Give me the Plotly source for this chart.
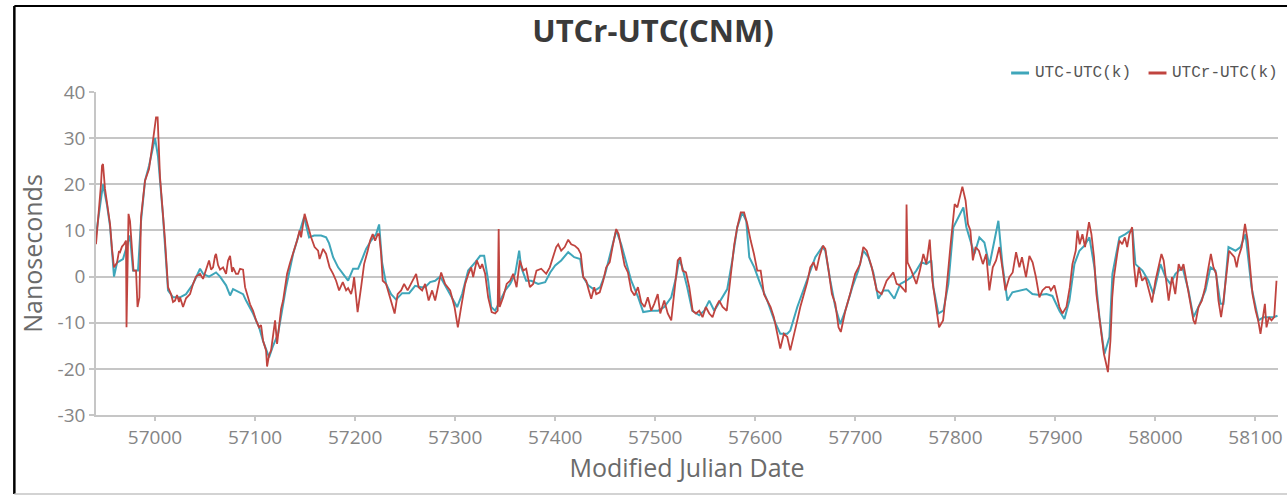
import plotly.graph_objects as go

# ---- data ----
mjd_utc = [56941, 56944, 56948, 56952, 56955, 56959, 56962, 56968, 56972, 56975, 56978, 56983, 56986, 56990,
           56994, 57000, 57003, 57008, 57013, 57018, 57025, 57031, 57038, 57045, 57048, 57054, 57061, 57065,
           57071, 57075, 57078, 57084, 57088, 57091, 57098, 57104, 57108, 57114, 57118, 57123, 57131, 57138,
           57144, 57149, 57154, 57159, 57166, 57171, 57174, 57178, 57183, 57188, 57193, 57198, 57203, 57207,
           57211, 57216, 57221, 57224, 57227, 57231, 57236, 57241, 57247, 57254, 57260, 57266, 57270, 57275,
           57280, 57285, 57288, 57297, 57302, 57307, 57313, 57320, 57325, 57329, 57333, 57336, 57340, 57345,
           57350, 57355, 57360, 57364, 57366, 57371, 57376, 57383, 57390, 57395, 57400, 57406, 57413, 57419,
           57425, 57428, 57433, 57440, 57445, 57450, 57455, 57461, 57466, 57471, 57476, 57483, 57488, 57496,
           57503, 57509, 57516, 57521, 57524, 57527, 57532, 57537, 57544, 57549, 57554, 57559, 57566, 57572,
           57577, 57582, 57587, 57591, 57594, 57599, 57605, 57612, 57619, 57625, 57632, 57635, 57642, 57649,
           57655, 57660, 57667, 57670, 57675, 57680, 57685, 57690, 57697, 57703, 57708, 57713, 57718, 57723,
           57728, 57733, 57739, 57745, 57751, 57756, 57761, 57766, 57771, 57776, 57778, 57783, 57788, 57793,
           57798, 57803, 57808, 57811, 57816, 57819, 57824, 57829, 57834, 57839, 57843, 57847, 57852, 57857,
           57864, 57871, 57877, 57884, 57891, 57897, 57904, 57909, 57914, 57919, 57924, 57929, 57934, 57939,
           57944, 57949, 57954, 57957, 57964, 57970, 57977, 57980, 57987, 57993, 57998, 58005, 58010, 58015,
           58020, 58027, 58033, 58038, 58043, 58050, 58055, 58060, 58065, 58068, 58073, 58080, 58085, 58090,
           58096, 58103, 58108, 58113, 58118, 58122]
utc_utck = [9, 14, 20, 15.5, 11, 0, 3, 3.8, 6.5, 8.9, 1.3, 1.3, 12, 20.8,
            24, 30, 26, 13, -3, -4.5, -4.5, -3.8, -1.6, 1.7, 0.6, 0, 0.9, 0,
            -1.9, -4.1, -2.7, -3.4, -3.8, -5.2, -8, -11, -14, -17.5, -15, -12.4, -2.3, 4.9,
            9.2, 12.9, 8.5, 8.9, 8.9, 8.5, 7.2, 4.2, 2, 0.6, -0.9, 1.7, 1.7, 3.8,
            6, 7.8, 9.2, 11.3, 3, -1.6, -3.8, -5, -3.6, -3.6, -2, -2.3, -2.3, -1.2,
            -0.9, 0, -1.2, -4.5, -6.6, -3.8, 1.3, 3.1, 4.5, 4.5, -0.9, -6.6, -7.4, -5.2,
            -3, -1.6, 0.6, 5.6, 2, -0.9, -0.9, -1.6, -1.2, 0.9, 2.4, 3.5, 5.3, 4.2,
            3.8, -0.1, -1.9, -3, -2.3, 0.6, 4.9, 10, 7, 3.1, -0.9, -4.5, -7.7, -7.4,
            -7.4, -6.6, -4.5, 0, 3.8, 2, -2.3, -7.4, -8.4, -7.4, -5.2, -7.4, -4.8, -2.7,
            3.5, 10.7, 13.9, 12, 4.2, 2, -1.6, -5.2, -9.5, -12.4, -12.4, -11.7, -6.6, -2.3,
            1.3, 4.2, 6.4, 5.6, -0.9, -6.6, -10.3, -7.4, -2.3, 1.3, 5.6, 4.2, 0.9, -4.8,
            -3, -3, -4.8, -1.6, -0.9, -0.1, 1.3, 3.1, 2.7, 3.5, -2.3, -8, -7.4, -1.6,
            10.7, 12.9, 15, 10.7, 7, 4.9, 8.5, 7.4, 2.4, 7.8, 12.1, 2.7, -5.2, -3.4,
            -3, -2.7, -3.8, -4, -3.8, -4.2, -7.4, -9.2, -5.2, 2.7, 5.6, 6.7, 8.5, 2,
            -8.8, -16.8, -13.1, 0.6, 8.5, 9.2, 10.3, 2.7, 1.3, -0.9, -3.8, 2.7, -0.1, -1.6,
            0.6, 2, -3, -8.8, -6.6, -3, 2, 1.3, -5.9, -5.9, 6.4, 5.6, 6.4, 9.2,
            -2.3, -9.5, -8.8, -8.8, -8.8, -8.5]

mjd_utcr = [56941, 56944, 56946, 56947, 56948, 56950, 56952, 56955, 56957, 56959, 56962, 56964, 56965, 56967,
            56969, 56971, 56971.5, 56972.5, 56973.5, 56975, 56977, 56978.5, 56981, 56982.5, 56984.4, 56986,
            56990, 56994, 56998, 57001, 57002.6, 57005, 57010, 57013, 57016, 57018, 57020, 57022, 57024,
            57025, 57028, 57031, 57035, 57038, 57041, 57045, 57048, 57051, 57054, 57056, 57058, 57060, 57061,
            57063, 57065, 57068, 57071, 57073, 57075, 57077, 57078, 57081, 57083, 57085, 57088, 57090, 57092,
            57095, 57098, 57101, 57104, 57106, 57108, 57111, 57112, 57114, 57116, 57118, 57120, 57122, 57124,
            57126, 57128, 57130, 57132, 57135, 57138, 57142, 57144.5, 57146, 57149.5, 57153, 57156, 57159.5,
            57163, 57164.5, 57168, 57171, 57174.5, 57178, 57181, 57184, 57187.7, 57191, 57193, 57196, 57197.7,
            57199, 57202.5, 57206, 57209, 57212.6, 57215, 57217.6, 57220, 57222.6, 57224, 57226, 57227.6,
            57231, 57234, 57237.5, 57239.5, 57242.5, 57246, 57249, 57252.5, 57255.8, 57259, 57261, 57263.5,
            57267, 57270, 57273.5, 57277, 57280, 57283.5, 57286, 57290, 57295, 57299.4, 57302.7, 57306,
            57310, 57313.3, 57316, 57318, 57321.6, 57325, 57327, 57330, 57333, 57336.5, 57340, 57342.5,
            57343.5, 57344.5, 57348, 57351.5, 57355, 57358, 57361.4, 57364.7, 57368, 57371, 57374.7, 57378,
            57381.3, 57386, 57391, 57394.6, 57398, 57401, 57403, 57406, 57409.5, 57413, 57416, 57419.5,
            57423, 57425.6, 57428, 57431, 57433.6, 57436, 57439, 57441, 57444.5, 57448, 57451, 57454.5,
            57457.8, 57461, 57463.4, 57466, 57469.4, 57472.7, 57476, 57479.3, 57482.7, 57486, 57489.3,
            57492.6, 57496, 57499, 57502.5, 57505, 57509, 57512.5, 57516, 57518.5, 57522.5, 57525, 57527.4,
            57530.7, 57534, 57537.4, 57540.7, 57544, 57547.3, 57550.6, 57554, 57557.3, 57560.6, 57564,
            57567.3, 57571.5, 57575.5, 57579, 57582, 57585.5, 57588.8, 57592, 57595.4, 57598.7, 57602,
            57605.4, 57608.7, 57612, 57615.3, 57618.6, 57622, 57625, 57628.6, 57632, 57635, 57638.5, 57642,
            57645, 57648.5, 57652, 57655, 57658.3, 57661, 57664.3, 57667.6, 57670, 57673.3, 57676.6, 57680,
            57683.2, 57685.5, 57690, 57694.8, 57699.8, 57704.8, 57708, 57711.4, 57716.4, 57721.4, 57726.3,
            57731.3, 57734.6, 57738, 57741.3, 57744.6, 57748, 57750.5, 57751.2, 57752.2, 57756, 57761,
            57764.5, 57768, 57771, 57774.4, 57777, 57780.4, 57783.7, 57787.7, 57791, 57795, 57799.3, 57802,
            57804.3, 57807, 57810.2, 57812.6, 57815, 57817.5, 57820.2, 57823.5, 57827.5, 57830.8, 57834,
            57837.4, 57840.7, 57844, 57847.4, 57850, 57854, 57857.3, 57860.7, 57864, 57866.6, 57870.6, 57874,
            57877.2, 57880.5, 57884, 57887, 57890.5, 57893.8, 57895.5, 57899, 57904, 57907, 57911, 57914.4,
            57917, 57920.3, 57922, 57924.3, 57927, 57929.6, 57932, 57933.6, 57936, 57938.6, 57941, 57943.6,
            57946.2, 57948.5, 57950, 57952.5, 57955, 57956.8, 57958.5, 57960, 57961.8, 57964, 57966.8,
            57969.4, 57971.7, 57974, 57976.7, 57978.4, 57980.7, 57983.4, 57986.7, 57990, 57993.3, 57996.6,
            58000, 58003.3, 58006, 58008.2, 58010.5, 58013.2, 58016.5, 58019.8, 58023.2, 58025.8, 58028,
            58031.5, 58034.8, 58038, 58039.8, 58043, 58046.4, 58049.7, 58053, 58055.4, 58058, 58060.7, 58063,
            58065.6, 58068, 58071.3, 58073.6, 58076.2, 58079, 58081.2, 58083, 58086.2, 58089.5, 58092.2,
            58094.5, 58097, 58100.2, 58102.7, 58105, 58107.8, 58109.4, 58111, 58113.4, 58116, 58118.7, 58121]
utcr_utck = [7, 14, 20, 24, 24.4, 19, 15.7, 11.4, 6, 2, 3, 5.5, 5.3, 6.5,
             7, 7.8, -11, 5, 13.6, 12, 5, 1.3, 1.3, -6.6, -4.5, 12.9,
             20.8, 23.3, 29.5, 34.5, 34.5, 21.5, 7.8, -2.3, -3.8, -5.5, -5.2, -4, -5.5,
             -4.5, -6.6, -4.7, -3.8, -1.6, 0, 0.6, -0.5, 1.3, 3.5, 1.5, 2, 4.5, 4.9,
             2.5, 1.5, 2, 0.6, 3.5, 4.5, 1, 2, 0.6, 0.6, 1.7, 1.5, -2.3, -3.8,
             -6, -7.4, -9.5, -11, -10.5, -13.9, -16, -19.5, -17, -16, -12.5, -9.5, -14.6, -11,
             -7, -5.2, -2, 0.6, 3, 4.9, 7.8, 10, 8.5, 13.6, 10.7, 8.5, 6.4,
             5.6, 3.8, 6, 4.9, 2, 0.6, -0.9, -3, -1.2, -3, -2.5, -3.8, -2.3,
             -0.1, -7.7, -2.3, 2.7, 5.6, 7.8, 9.2, 7.8, 9.2, 9.2, 4.9, -0.9,
             -1.6, -3.8, -6.6, -8, -3.8, -3, -1.6, -3, -1.6, 0, 0.6, -2.3,
             -3, -1.6, -5.2, -3, -5.2, -1.6, 0.9, -1.6, -3, -6.6, -11, -6.6,
             -1.6, 0.6, 2, -0.1, 3.5, 1.7, 2.7, 0.6, -4.5, -7.7, -8, -7.4,
             10.3, -6.6, -4.5, -1.6, -0.9, 0.6, -2.3, 3.5, 1.3, 1.7, -2.3, -1.6,
             1.3, 1.7, 0.6, 2, 4.2, 6.4, 7, 5.6, 6.4, 8, 7, 6.7,
             6, 4.9, -0.1, -0.9, -3, -4.8, -2.3, -3.8, -3.4, -0.9, 2, 3.1,
             7, 10.3, 9.2, 6.4, 2.4, 0.9, -3, -4.1, -2.3, -5.6, -6.6,
             -4.5, -7.4, -5.9, -3.8, -8, -5.2, -8, -9.5, -4.5, 3.5, 4.2, 1.3,
             0.9, -2.3, -7.4, -8, -7.4, -8.8, -6.6, -8, -8.8, -6.6, -5.2,
             -6.6, -7.4, -0.1, 7, 10.7, 13.9, 13.9, 11.4, 7.8, 4.9, 1.3,
             1.3, -3.8, -5.2, -6.6, -8.8, -12.4, -15.6, -12.4, -13.1, -16, -12.4, -9.5,
             -6.6, -3.8, -1.2, 2, 3.1, 1.3, 4.5, 6.7, 6, 1.3, -3.8, -5.9,
             -11, -12, -7.4, -3.8, 0.6, 2.7, 6.4, 5.6, 2, -3, -3.8,
             -0.9, -0.1, 0.9, -1.6, -1.9, -2.7, -3.4, 15.6, 3.1, 1.3, -1.6,
             1.3, 4.9, 2.7, 8, -0.9, -5.9, -11, -9.5, -3, 6.4, 15.7, 15,
             17.2, 19.5, 16.5, 11.4, 10, 3.5, 6.4, 5.6, 2.7, 4.9, -3,
             2, 3.5, 6.4, 1.3, -3, -0.1, 0.9, 5.3, 2, 4.2, -0.1, 4.5,
             3.1, -0.1, -4.5, -3, -2.3, -2.3, -3, -1.9, -6.6, -8, -6.6, -2.3,
             2.7, 5.6, 10, 7, 9.2, 6.4, 10, 11.8, 9.2, 4.2, -3.8, -8.8,
             -13.1, -16.8, -18.2, -20.7, -13.9, -4.5, -0.1, 2.7, 4.9, 7.8, 7,
             8.5, 6.4, 9.2, 10.7, 2.7, -2.3, 2, -0.9, -0.1, -3, -5.6,
             -0.9, 2, 4.9, 3.5, -0.1, -5.2, -0.1, -3.8, 2.7, 1.3, 2.7,
             -1.6, -5.2, -9.5, -10.3, -6.6, -5.2, -2.3, 2, 4.9, 2, 0.6, -5.2,
             -8.8, -5.2, 2, 5.6, 4.9, 4.2, 2, 4.2, 6.4, 11.4, 7.8,
             2.7, -3.8, -7.4, -9.5, -12.4, -8, -5.9, -11, -8.8, -9.5, -8.8, -0.9]

x_ticks = [57000, 57100, 57200, 57300, 57400, 57500, 57600, 57700, 57800, 57900, 58000, 58100]
x_tick_labels = [str(v) for v in x_ticks]
y_ticks = [-30, -20, -10, 0, 10, 20, 30, 40]
y_tick_labels = [str(v) for v in y_ticks]
series_names = ["UTC-UTC(k)", "UTCr-UTC(k)"]
title_text = "UTCr-UTC(CNM)"
x_title = "Modified Julian Date"
y_title = "Nanoseconds"

TEAL = "#3fa6ba"
RED = "#c0443f"
GRID = "#c6c6c6"
TICKC = "#858585"

W, H = 1287, 495
L, R, T, B = 96, 4, 92, 80
pw, ph = W - L - R, H - T - B


def px(x):
    return (x - L) / pw


def py(y):
    return (H - B - y) / ph


fig = go.Figure()
fig.add_trace(go.Scatter(x=mjd_utc, y=utc_utck, mode="lines", name=series_names[0],
                         line=dict(color=TEAL, width=2), showlegend=False))
fig.add_trace(go.Scatter(x=mjd_utcr, y=utcr_utck, mode="lines", name=series_names[1],
                         line=dict(color=RED, width=1.8), showlegend=False))

shapes = []
# legend line samples
shapes.append(dict(type="line", xref="paper", yref="paper", x0=px(1015), x1=px(1033), y0=py(73), y1=py(73),
                   line=dict(color=TEAL, width=3)))
shapes.append(dict(type="line", xref="paper", yref="paper", x0=px(1153), x1=px(1171), y0=py(73), y1=py(73),
                   line=dict(color=RED, width=3)))
# outer frame (left + top black, bottom light grey; right edge lies outside the page)
shapes.append(dict(type="line", xref="paper", yref="paper", x0=px(14), x1=px(14), y0=py(6), y1=py(494),
                   line=dict(color="black", width=2.5)))
shapes.append(dict(type="line", xref="paper", yref="paper", x0=px(14), x1=px(1320), y0=py(6), y1=py(6),
                   line=dict(color="black", width=2)))
shapes.append(dict(type="line", xref="paper", yref="paper", x0=px(14), x1=px(1320), y0=py(494), y1=py(494),
                   line=dict(color="#c4c4c4", width=1.5)))

annotations = [
    dict(text=series_names[0], xref="paper", yref="paper", x=px(1037), y=py(73), xanchor="left",
         yanchor="middle", showarrow=False, font=dict(family="Liberation Mono", size=16, color="#555555")),
    dict(text=series_names[1], xref="paper", yref="paper", x=px(1175), y=py(73), xanchor="left",
         yanchor="middle", showarrow=False, font=dict(family="Liberation Mono", size=16, color="#555555")),
]

fig.update_layout(
    width=W, height=H,
    margin=dict(l=L, r=R, t=T, b=B, pad=0),
    paper_bgcolor="white", plot_bgcolor="white",
    title=dict(text="<b>" + title_text + "</b>", x=653 / W, xref="container", xanchor="center",
               y=1 - 31 / H, yref="container", yanchor="middle",
               font=dict(family="Open Sans", size=31, color="#3a3a3a")),
    font=dict(family="Open Sans", color=TICKC),
    shapes=shapes,
    annotations=annotations,
    showlegend=False,
)
fig.update_xaxes(range=[56941, 58122.5], tickmode="array", tickvals=x_ticks, ticktext=x_tick_labels,
                 ticklabeloverflow="allow",
                 showgrid=False, zeroline=False, showline=True, linecolor=GRID, linewidth=1.5,
                 ticks="outside", ticklen=4, tickcolor=GRID, tickwidth=1.5,
                 tickfont=dict(family="Open Sans", size=19, color=TICKC),
                 title=dict(text=x_title, font=dict(family="Open Sans", size=25, color="#6a6a6a"), standoff=8))
fig.update_yaxes(range=[-30, 40], tickmode="array", tickvals=y_ticks, ticktext=y_tick_labels,
                 showgrid=True, gridcolor=GRID, gridwidth=1.5, zeroline=False,
                 showline=True, linecolor=GRID, linewidth=1.5,
                 ticks="outside", ticklen=5, tickcolor=GRID, tickwidth=1.5,
                 tickfont=dict(family="Open Sans", size=19, color=TICKC),
                 title=dict(text=y_title, font=dict(family="Open Sans", size=25, color="#6a6a6a"), standoff=8))

fig.write_html("out.html", config={"displayModeBar": False},
               post_script=("document.documentElement.style.overflow='hidden';"
                            "document.body.style.overflow='hidden';"
                            "document.body.style.margin='0';document.body.style.padding='0';"))
